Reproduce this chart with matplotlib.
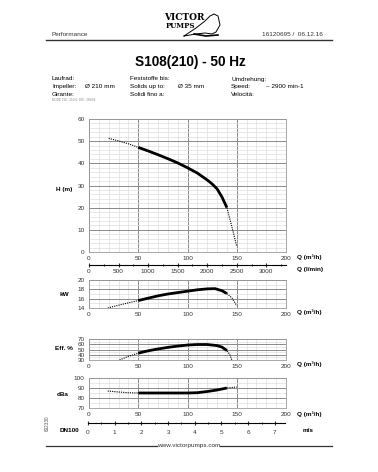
import numpy as np
import matplotlib
matplotlib.use("Agg")
import matplotlib.pyplot as plt
from matplotlib.ticker import MultipleLocator
from matplotlib.lines import Line2D

plt.rcParams["font.family"] = ["Liberation Sans", "DejaVu Sans"]

W, H_PX = 378, 472
THICK = (50, 140)   # range of the bold (recommended) part of each curve

# Head curve
q_h = [20, 30, 40, 50, 60, 70, 80, 90, 100, 110, 120, 125, 130, 135, 140, 145, 150]
head = [51.3, 50.1, 48.8, 47.2, 45.6, 43.9, 42.1, 40.2, 38.0, 35.6, 32.5, 30.7, 28.5, 24.8, 20.0, 11.5, 2.5]

# Power curve
q_kw = [19, 30, 40, 50, 60, 70, 80, 90, 100, 110, 120, 128, 135, 140, 145, 150]
power = [14.0, 14.6, 15.1, 15.6, 16.1, 16.6, 17.0, 17.3, 17.6, 17.9, 18.1, 18.15, 17.7, 17.1, 16.2, 14.5]

# Efficiency curve
q_eff = [31, 40, 50, 60, 70, 80, 90, 100, 110, 120, 130, 135, 140, 143, 145]
eff = [30, 37, 43, 47.5, 51, 54, 56.5, 58.5, 59.5, 59.5, 57.5, 54.5, 48, 40, 30]

# Noise curve
q_db = [19, 30, 40, 50, 60, 80, 100, 110, 120, 130, 140, 150]
noise = [87, 86, 85.3, 85, 85, 85, 85, 85.3, 86.5, 88, 90, 91]

Q_TICKS = [0, 50, 100, 150, 200]
LMIN_TICKS = [0, 500, 1000, 1500, 2000, 2500, 3000]
VEL_TICKS = [0, 1, 2, 3, 4, 5, 6, 7]

FS = 4.6
GRID_MAJ = "#8a8a8a"
GRID_MIN = "#dedede"


def rect(l, t, r, b):
    return [l / W, 1 - b / H_PX, (r - l) / W, (b - t) / H_PX]


def ftext(x, y, s, **kw):
    kw.setdefault("fontsize", FS)
    kw.setdefault("va", "center")
    fig.text(x / W, 1 - y / H_PX, s, **kw)


def chart(r, ylim, ymaj, ymin, xlab_y):
    ax = fig.add_axes(r)
    ax.set_xlim(0, 200)
    ax.set_ylim(*ylim)
    ax.set_xticks(Q_TICKS)
    ax.xaxis.set_minor_locator(MultipleLocator(10))
    ax.yaxis.set_major_locator(MultipleLocator(ymaj))
    ax.yaxis.set_minor_locator(MultipleLocator(ymin))
    ax.grid(which="major", color=GRID_MAJ, lw=0.7)
    ax.grid(which="minor", color=GRID_MIN, lw=0.5)
    ax.set_axisbelow(True)
    ax.tick_params(which="both", length=0, labelsize=FS, colors="#333333", pad=3)
    for s in ax.spines.values():
        s.set_color("#9a9a9a")
        s.set_linewidth(0.6)
    ftext(297, xlab_y, "Q (m³/h)", fontweight="bold")
    return ax


def curve(ax, q, v):
    q = np.array(q, float)
    v = np.array(v, float)
    ax.plot(q, v, color="black", lw=0.8, ls=(0, (1, 1)))
    m = (q >= THICK[0]) & (q <= THICK[1])
    ax.plot(q[m], v[m], color="black", lw=2.0, solid_capstyle="butt")


fig = plt.figure(figsize=(W / 100, H_PX / 100), dpi=100)

# header
ftext(52, 35, "Performance", color="#333333")
ftext(323, 35, "16120695 /  06.12.16", ha="right", color="#333333")
fig.add_artist(Line2D([46 / W, 332 / W], [1 - 39.5 / H_PX] * 2, color="#333333", lw=1.0))
ftext(164, 17, "VICTOR", family="DejaVu Serif", fontweight="bold", fontsize=6.5)
ftext(166, 26, "PUMPS", family="DejaVu Serif", fontweight="bold", fontsize=5)
bird_x = [184, 196, 205, 210, 214, 218, 220, 216, 212, 205, 196, 184]
bird_y = [36, 28, 21, 16, 14, 16, 25, 32, 34, 33, 34, 36]
fig.add_artist(Line2D(np.array(bird_x) / W, 1 - np.array(bird_y) / H_PX, color="black", lw=0.7))
fig.add_artist(Line2D(np.array([194, 206, 218]) / W, 1 - np.array([34, 36, 35]) / H_PX, color="black", lw=1.2))

ftext(190, 62, "S108(210) - 50 Hz", ha="center", fontsize=9.8, fontweight="bold")

rows = [79, 86.5, 94]
ftext(52, rows[0], "Laufrad:")
ftext(52, rows[1], "Impeller:")
ftext(85, rows[1], "Ø 210 mm")
ftext(52, rows[2], "Girante:")
ftext(52, 99.5, "MODE 210 - 210/4; 200 - 2600/4", fontsize=2.2, color="#888888")
ftext(130, rows[0], "Feststoffe bis:")
ftext(130, rows[1], "Solids up to:")
ftext(178, rows[1], "Ø 35 mm")
ftext(130, rows[2], "Solidi fino a:")
ftext(231, rows[0], "Umdrehung:")
ftext(231, rows[1], "Speed:")
ftext(266, rows[1], "~ 2900 min-1")
ftext(231, rows[2], "Velocità:")

# head chart
ax_h = chart(rect(89, 119, 286, 252), (0, 60), 10, 2, 257)
curve(ax_h, q_h, head)
ftext(56, 190, "H (m)", fontweight="bold")

# l/min scale
ax_l = fig.add_axes(rect(89, 264, 286, 264.5))
ax_l.set_xlim(0, 200 * 1000 / 60)
ax_l.set_ylim(0, 1)
ax_l.set_yticks([])
ax_l.set_xticks(LMIN_TICKS)
ax_l.xaxis.set_minor_locator(MultipleLocator(250))
for s in ["top", "left", "right"]:
    ax_l.spines[s].set_visible(False)
ax_l.spines["bottom"].set_linewidth(0.8)
ax_l.tick_params(which="major", length=2.5, direction="inout", labelsize=FS, pad=2, colors="#333333")
ax_l.tick_params(which="minor", length=1.5, direction="inout")
ax_l.patch.set_visible(False)
ftext(297, 270, "Q (l/min)", fontweight="bold")

# power chart
ax_kw = chart(rect(89, 280, 286, 308), (14, 20), 2, 1, 312.5)
curve(ax_kw, q_kw, power)
ftext(60, 294, "kW", fontweight="bold")

# efficiency chart
ax_e = chart(rect(89, 339, 286, 360), (30, 70), 10, 5, 364.5)
curve(ax_e, q_eff, eff)
ftext(55, 349, "Eff. %", fontweight="bold")

# noise chart
ax_d = chart(rect(89, 378, 286, 408), (70, 100), 10, 5, 414)
curve(ax_d, q_db, noise)
ftext(57, 394, "dBa", fontweight="bold")

# velocity scale DN100
ax_v = fig.add_axes(rect(88, 423, 285, 423.5))
ax_v.set_xlim(0, 7.38)
ax_v.set_ylim(0, 1)
ax_v.set_yticks([])
ax_v.set_xticks(VEL_TICKS)
ax_v.xaxis.set_minor_locator(MultipleLocator(0.5))
for s in ["top", "left", "right"]:
    ax_v.spines[s].set_visible(False)
ax_v.spines["bottom"].set_linewidth(0.8)
ax_v.spines["bottom"].set_position(("data", 1))
ax_v.tick_params(which="major", length=2.5, direction="inout", labelsize=FS, pad=4, colors="#333333")
ax_v.tick_params(which="minor", length=1.5, direction="inout")
ax_v.patch.set_visible(False)
ftext(60, 430, "DN100", fontweight="bold")
ftext(303, 430, "m/s", fontweight="bold")
ftext(47, 423, "602330", rotation=90, ha="center", fontsize=3.3, color="#555555")

# footer
fig.add_artist(Line2D([46 / W, 157 / W], [1 - 445.7 / H_PX] * 2, color="#333333", lw=0.9))
fig.add_artist(Line2D([220 / W, 332 / W], [1 - 445.7 / H_PX] * 2, color="#333333", lw=0.9))
ftext(189, 445.5, "www.victorpumps.com", ha="center", color="#333333")

fig.savefig("out.png", dpi=100)
